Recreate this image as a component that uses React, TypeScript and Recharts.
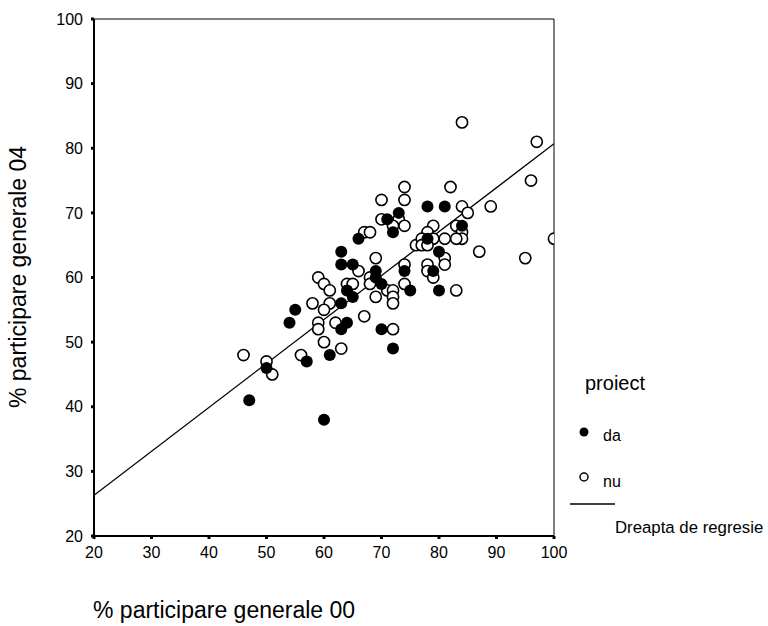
import { ScatterChart, Scatter, XAxis, YAxis, ReferenceLine, Legend, Label } from "recharts";

// puncte: [participare 00, participare 04]
const da = [
  [47, 41], [50, 46], [54, 53], [55, 55], [57, 47], [60, 38], [61, 48], [63, 56],
  [64, 53], [63, 52], [63, 64], [63, 62], [65, 62], [64, 58], [65, 57], [66, 66],
  [69, 61], [69, 60], [70, 59], [70, 52], [72, 49], [71, 69], [73, 70], [72, 67],
  [74, 61], [75, 58], [78, 71], [81, 71], [84, 68], [78, 66], [79, 61], [80, 64], [80, 58],
];

const nu = [
  [46, 48], [50, 47], [51, 45], [56, 48], [58, 56], [59, 60], [60, 59], [61, 58],
  [61, 56], [60, 55], [59, 53], [59, 52], [60, 50], [63, 49], [62, 53], [66, 61],
  [64, 59], [65, 59], [67, 54], [69, 63], [68, 60], [68, 59], [69, 57], [71, 58],
  [72, 58], [72, 57], [72, 56], [72, 52], [74, 62], [74, 59], [74, 74], [74, 72],
  [70, 72], [73, 69], [70, 69], [72, 68], [74, 68], [67, 67], [68, 67], [76, 65],
  [84, 84], [97, 81], [96, 75], [82, 74], [84, 71], [89, 71], [85, 70], [79, 68],
  [83, 68], [84, 67], [84, 66], [83, 66], [78, 67], [77, 66], [79, 66], [81, 66],
  [77, 65], [78, 65], [87, 64], [100, 66], [95, 63], [81, 63], [81, 62], [78, 62],
  [78, 61], [79, 60], [83, 58],
];

const ticks = [20, 30, 40, 50, 60, 70, 80, 90, 100];

// dreapta de regresie
const regIntercept = 12.7;
const regSlope = 0.68;
const regEnds = [20, 100];

const FONT = "'Liberation Sans', Arial, sans-serif";

const toPts = (arr: number[][]) => arr.map(([x, y]) => ({ x, y }));
const regData = regEnds.map((x) => ({ x, y: regIntercept + regSlope * x }));

const FilledDot = (p: any) => <circle cx={p.cx} cy={p.cy} r={6} fill="#000" />;
const OpenDot = (p: any) => <circle cx={p.cx} cy={p.cy} r={5.6} fill="#fff" stroke="#000" strokeWidth={1.6} />;

const LegendBox = () => (
  <svg width={208} height={200} style={{ fontFamily: FONT }}>
    <text x={25} y={30} fontSize={20}>proiect</text>
    <circle cx={24} cy={72} r={4.5} fill="#000" />
    <text x={43} y={81} fontSize={16}>da</text>
    <circle cx={24} cy={117} r={4} fill="#fff" stroke="#000" strokeWidth={1.5} />
    <text x={43} y={127} fontSize={16}>nu</text>
    <line x1={10} x2={55} y1={144} y2={144} stroke="#000" strokeWidth={1.3} />
    <text x={55} y={173} fontSize={16.8}>Dreapta de regresie</text>
  </svg>
);

export default function App() {
  const tickStyle = { fill: "#000", fontSize: 16, fontFamily: FONT };
  return (
    <div style={{ position: "absolute", left: 0, top: 0, background: "#fff" }}>
      <ScatterChart width={768} height={626} margin={{ top: 19, right: 214, bottom: 60, left: 34 }}>
        <XAxis
          type="number"
          dataKey="x"
          domain={[20, 100]}
          ticks={ticks}
          allowDataOverflow
          height={30}
          tickSize={3}
          tickMargin={8}
          tick={tickStyle}
          tickLine={{ stroke: "#000", strokeWidth: 3 }}
          axisLine={{ stroke: "#000", strokeWidth: 2 }}
        >
          <Label
            content={(p: any) => (
              <text x={p.viewBox.x - 1} y={618} fontSize={23} fontFamily={FONT} fill="#000">
                % participare generale 00
              </text>
            )}
          />
        </XAxis>
        <YAxis
          type="number"
          dataKey="y"
          domain={[20, 100]}
          ticks={ticks}
          allowDataOverflow
          width={60}
          tickSize={3}
          tickMargin={8}
          tick={tickStyle}
          tickLine={{ stroke: "#000", strokeWidth: 3 }}
          axisLine={{ stroke: "#000", strokeWidth: 2 }}
        >
          <Label
            content={() => (
              <text
                transform="translate(26,277) rotate(-90)"
                textAnchor="middle"
                fontSize={23}
                fontFamily={FONT}
                fill="#000"
              >
                % participare generale 04
              </text>
            )}
          />
        </YAxis>
        <ReferenceLine y={100} stroke="#000" strokeWidth={1} />
        <ReferenceLine x={100} stroke="#000" strokeWidth={1} />
        <Scatter
          data={regData}
          line={{ stroke: "#000", strokeWidth: 1.3 }}
          shape={() => <g />}
          isAnimationActive={false}
        />
        <Scatter data={toPts(nu)} shape={OpenDot} isAnimationActive={false} />
        <Scatter data={toPts(da)} shape={FilledDot} isAnimationActive={false} />
        <Legend
          layout="horizontal"
          verticalAlign="middle"
          align="center"
          content={() => <LegendBox />}
          wrapperStyle={{ left: 560, top: 360, width: 208, height: 200 }}
        />
      </ScatterChart>
    </div>
  );
}
